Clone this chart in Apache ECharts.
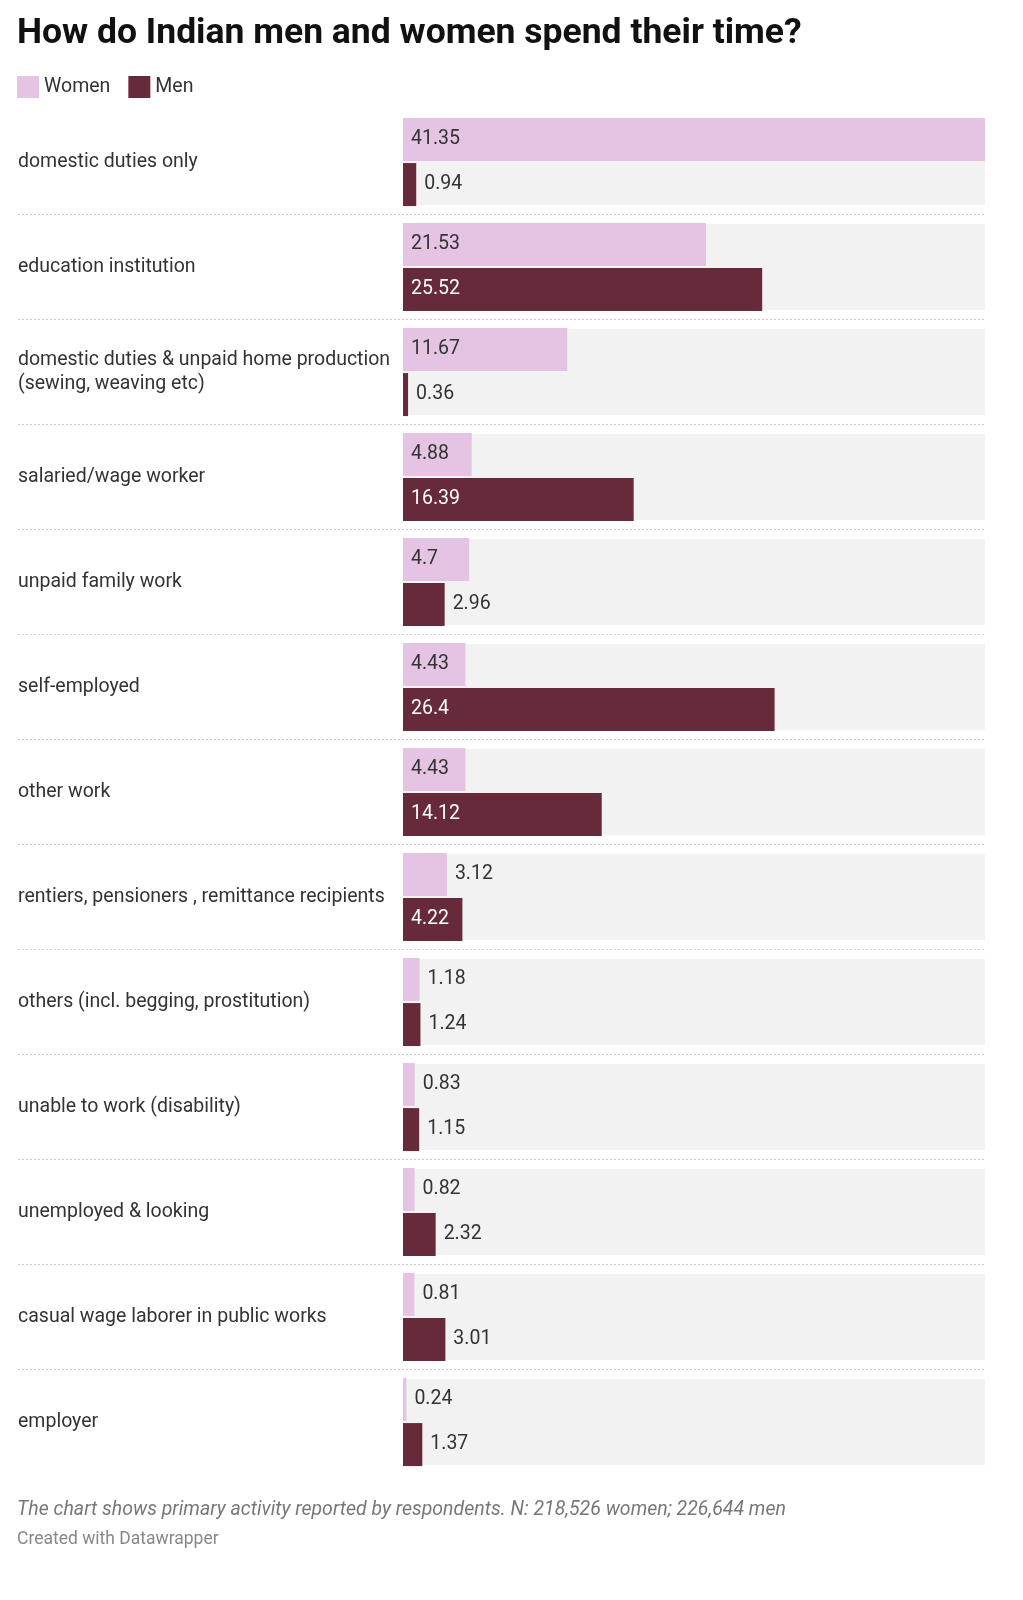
<!DOCTYPE html>
<html><head><meta charset="utf-8">
<script src="https://cdn.jsdelivr.net/npm/echarts@6/dist/echarts.min.js"></script>
<style>html,body{margin:0;background:#fff;overflow:hidden}#c{width:1023px;height:1600px}</style>
</head><body><div id="c"></div>
<script>
var categories = ['domestic duties only','education institution','domestic duties & unpaid home production\n(sewing, weaving etc)','salaried/wage worker','unpaid family work','self-employed','other work','rentiers, pensioners , remittance recipients','others (incl. begging, prostitution)','unable to work (disability)','unemployed & looking','casual wage laborer in public works','employer'];
var women = [41.35,21.53,11.67,4.88,4.7,4.43,4.43,3.12,1.18,0.83,0.82,0.81,0.24];
var men = [0.94,25.52,0.36,16.39,2.96,26.4,14.12,4.22,1.24,1.15,2.32,3.01,1.37];
var maxVal = 41.35;

var top0 = 109.5, band = 105;
function lab(v, inside, inColor){
    return inside ? {show:true,position:'insideLeft',distance:8,color:inColor,fontSize:19.5,fontFamily:'Roboto'}
                  : {show:true,position:'right',distance:8,color:'#333',fontSize:19.5,fontFamily:'Roboto'};
}
var wData = women.map(function(v){return {value:v,label:lab(v,v>=4,'#333')};});
var mData = men.map(function(v){return {value:v,label:lab(v,v>=4,'#fff')};});
var bgData = categories.map(function(){return maxVal;});

var lines = [];
for (var i = 1; i < categories.length; i++) {
    lines.push({type:'line',shape:{x1:18,y1:top0+band*i,x2:985,y2:top0+band*i},
        style:{stroke:'#cccccc',lineWidth:1,lineDash:[2,2]}});
}

var chart = echarts.init(document.getElementById('c'));
chart.setOption({
    animation:false,
    textStyle:{fontFamily:'Roboto'},
    title:{text:'How do Indian men and women spend their time?',left:17,top:16,padding:0,
        textStyle:{fontSize:35.5,fontWeight:'bold',color:'#111',fontFamily:'Roboto'}},
    legend:{left:17,top:76,padding:0,itemWidth:22,itemHeight:22,itemGap:18,data:['Women','Men'],
        textStyle:{fontSize:19.5,color:'#333'},icon:'rect'},
    grid:{left:403,right:38,top:top0,height:band*categories.length},
    xAxis:{type:'value',min:0,max:maxVal,show:false},
    yAxis:[{type:'category',data:categories,inverse:true,axisLine:{show:false},axisTick:{show:false},
            axisLabel:{align:'left',margin:385,fontSize:19.5,color:'#333',lineHeight:24}},
           {type:'category',data:categories,inverse:true,show:false}],
    series:[
        {name:'bg',type:'bar',yAxisIndex:1,data:bgData,barWidth:86,silent:true,itemStyle:{color:'#f2f2f2'},z:1},
        {name:'Women',type:'bar',data:wData,barWidth:43,barGap:'5%',itemStyle:{color:'#e4c3e3'},z:2},
        {name:'Men',type:'bar',data:mData,barWidth:43,itemStyle:{color:'#672a3a'},z:2}
    ],
    graphic:lines.concat([
        {type:'text',left:17,top:1500,style:{text:'The chart shows primary activity reported by respondents. N: 218,526 women; 226,644 men',
            fill:'#777',fontSize:19.5,fontStyle:'italic',fontFamily:'Roboto'}},
        {type:'text',left:17,top:1531,style:{text:'Created with Datawrapper',fill:'#888',fontSize:17.5,fontFamily:'Roboto'}}
    ])
});
</script></body></html>
